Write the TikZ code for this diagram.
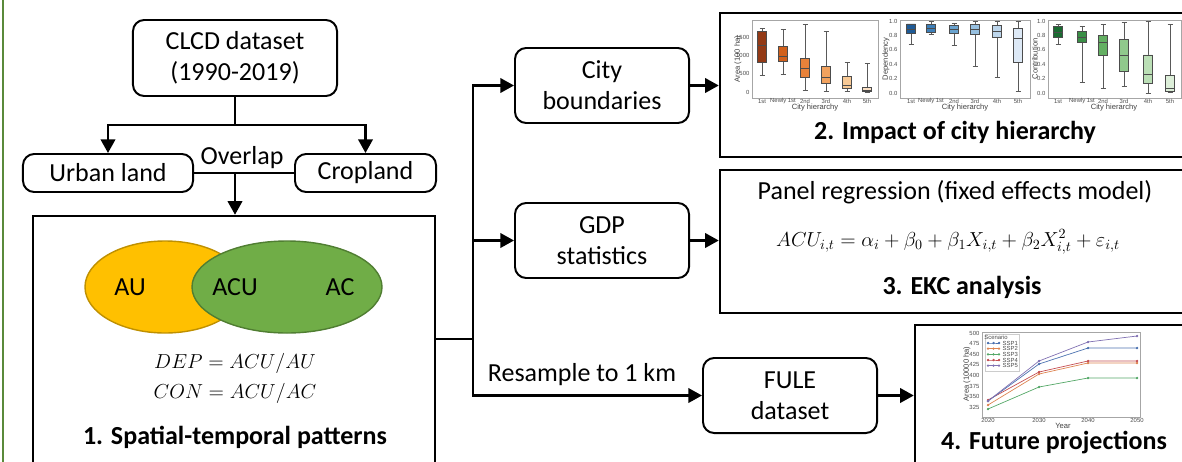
\documentclass[tikz,border=0pt]{standalone}
\usepackage{fontspec}
\setmainfont{Carlito}
\newfontfamily\chartfont{Liberation Sans}
\usetikzlibrary{arrows.meta}

\definecolor{auyellow}{HTML}{FFC000}
\definecolor{auedge}{HTML}{BF9000}
\definecolor{acgreen}{HTML}{70AD47}
\definecolor{acedge}{HTML}{507E32}
\definecolor{sideline}{HTML}{5A8A3A}
\definecolor{ar1}{HTML}{933A16}
\definecolor{ar2}{HTML}{D2611C}
\definecolor{ar3}{HTML}{E8823A}
\definecolor{ar4}{HTML}{F2A25E}
\definecolor{ar5}{HTML}{F8C995}
\definecolor{ar6}{HTML}{FBE0C4}
\definecolor{dp1}{HTML}{1E5A96}
\definecolor{dp2}{HTML}{3E7FB8}
\definecolor{dp3}{HTML}{6AA3CF}
\definecolor{dp4}{HTML}{97C0E0}
\definecolor{dp5}{HTML}{BDD6EC}
\definecolor{dp6}{HTML}{DDE9F6}
\definecolor{cn1}{HTML}{196B30}
\definecolor{cn2}{HTML}{3A8F46}
\definecolor{cn3}{HTML}{63AF62}
\definecolor{cn4}{HTML}{90C98C}
\definecolor{cn5}{HTML}{BBDFB6}
\definecolor{cn6}{HTML}{DDEFD9}
\definecolor{s1}{HTML}{4C72B0}
\definecolor{s2}{HTML}{DD8452}
\definecolor{s3}{HTML}{55A868}
\definecolor{s4}{HTML}{C44E52}
\definecolor{s5}{HTML}{8172B3}

\begin{document}
\begin{tikzpicture}[x=0.025cm, y=-0.025cm,
    font=\fontsize{18.5}{22}\selectfont,
    stepbox/.style={draw, line width=1.4pt, rounded corners=0.28cm, align=center, inner sep=0pt},
    panelbox/.style={draw, line width=1.7pt, inner sep=0pt},
    link/.style={line width=1.7pt},
    arr/.style={line width=1.7pt, -{Triangle[length=0.34cm, width=0.36cm]}},
    headline/.style={font=\fontsize{18.5}{22}\selectfont\bfseries},
    eq/.style={font=\fontsize{13.5}{16}\selectfont},
    plotframe/.style={draw=gray!70, line width=0.5pt},
    whisk/.style={draw=gray!70!black, line width=0.4pt},
    bx/.style={draw=gray!60!black, line width=0.4pt},
    ticklab/.style={font=\chartfont\fontsize{4.2}{5}\selectfont, text=gray!60!black, inner sep=1pt},
    axtitle/.style={font=\chartfont\fontsize{5.4}{6}\selectfont, text=gray!50!black, inner sep=0pt},
    ssp/.style={line width=0.5pt, mark=*, mark size=0.55pt}]
    \useasboundingbox (0,0) rectangle (1182,461);

    \draw[sideline, line width=1.4pt] (3,-5) -- (3,470);

    % data sources and first step
    \node[stepbox, minimum width=5.1cm, minimum height=1.9cm] (clcd) at (235,58) {CLCD dataset\\(1990-2019)};
    \node[stepbox, minimum width=4.25cm, minimum height=0.95cm] (urban) at (108,173) {Urban land};
    \node[stepbox, minimum width=3.525cm, minimum height=0.95cm] (crop) at (365.5,173) {Cropland};
    \node (overlap) at (242,158) {Overlap};
    \node[panelbox, minimum width=10.05cm, minimum height=6.375cm] (spatial) at (234,343.5) {};

    \coordinate (split) at (235,125);
    \coordinate (ov) at (235,173);
    \draw[link] (clcd) -- (split);
    \draw[arr] (split) -| (urban);
    \draw[arr] (split) -| (crop);
    \draw[link] (urban) -- (crop);
    \draw[arr] (ov) -- (ov |- spatial.north);

    \draw[fill=auyellow, draw=auedge, line width=1pt] (165,287) ellipse (80 and 46);
    \draw[fill=acgreen, draw=acedge, line width=1pt] (287,287) ellipse (95 and 46);
    \node (au) at (130,287) {AU};
    \node (acu) at (235,287) {ACU};
    \node (ac) at (340,287) {AC};
    \node[eq] (dep) at (235,363) {$DEP = ACU/AU$};
    \node[eq] (con) at (235,393) {$CON = ACU/AC$};
    \node[headline] (spatialtitle) at (235,437) {1. Spatial-temporal patterns};

    % middle column
    \node[stepbox, minimum width=4.35cm, minimum height=1.875cm] (city) at (602,85.5) {City\\boundaries};
    \node[stepbox, minimum width=4.35cm, minimum height=1.875cm] (gdp) at (602,240.5) {GDP\\statistics};
    \node[stepbox, minimum width=4.35cm, minimum height=1.875cm] (fule) at (790,395.5) {FULE\\dataset};

    % result panels
    \node[panelbox, minimum width=11.875cm, minimum height=3.6cm] (impact) at (957.5,85) {};
    \node[panelbox, minimum width=11.875cm, minimum height=3.575cm] (ekc) at (957.5,241.5) {};
    \node[panelbox, minimum width=7cm, minimum height=3.75cm] (future) at (1055,400) {};

    \coordinate (hub) at (473,339);
    \draw[link] (hub -| spatial.east) -- (hub);
    \draw[arr] (hub) |- (city);
    \draw[arr] (hub) |- (gdp);
    \draw[arr] (hub) |- (fule);
    \node (resample) at (582,375) {Resample to 1 km};
    \draw[arr] (city) -- (city -| impact.west);
    \draw[arr] (gdp) -- (gdp -| ekc.west);
    \draw[arr] (fule) -- (fule -| future.west);

    % area by city hierarchy
    \draw[plotframe] (752,20) rectangle (878,98);
    \begin{scope}[shift={(0,92)}, yscale=-0.036667]
        \draw[whisk] (762,450) -- (762,1750) (759.5,450) -- (764.5,450) (759.5,1750) -- (764.5,1750);
        \draw[bx, fill=ar1] (757.5,800) rectangle (766.5,1650) (757.5,1270) -- (766.5,1270);
        \draw[whisk] (783,470) -- (783,1700) (780.5,470) -- (785.5,470) (780.5,1700) -- (785.5,1700);
        \draw[bx, fill=ar2] (778.5,850) rectangle (787.5,1240) (778.5,970) -- (787.5,970);
        \draw[whisk] (805,50) -- (805,1850) (802.5,50) -- (807.5,50) (802.5,1850) -- (807.5,1850);
        \draw[bx, fill=ar3] (800.5,390) rectangle (809.5,920) (800.5,640) -- (809.5,640);
        \draw[whisk] (826,30) -- (826,1650) (823.5,30) -- (828.5,30) (823.5,1650) -- (828.5,1650);
        \draw[bx, fill=ar4] (821.5,230) rectangle (830.5,700) (821.5,400) -- (830.5,400);
        \draw[whisk] (847,10) -- (847,820) (844.5,10) -- (849.5,10) (844.5,820) -- (849.5,820);
        \draw[bx, fill=ar5] (842.5,100) rectangle (851.5,430) (842.5,180) -- (851.5,180);
        \draw[whisk] (867,0) -- (867,780) (864.5,0) -- (869.5,0) (864.5,780) -- (869.5,780);
        \draw[bx, fill=ar6] (862.5,20) rectangle (871.5,130) (862.5,60) -- (871.5,60);
        \node[ticklab, anchor=east] (a0) at (751,0) {0};
        \node[ticklab, anchor=east] (a1) at (751,500) {500};
        \node[ticklab, anchor=east] (a2) at (751,1000) {1000};
        \node[ticklab, anchor=east] (a3) at (751,1500) {1500};
    \end{scope}
    \node[axtitle, rotate=90] (areatitle) at (738,59) {Area (100 ha)};
    \node[ticklab] (ax1) at (762,101) {1st};
    \node[ticklab] (ax2) at (783,101) {Newly 1st};
    \node[ticklab] (ax3) at (805,101) {2nd};
    \node[ticklab] (ax4) at (826,101) {3rd};
    \node[ticklab] (ax5) at (847,101) {4th};
    \node[ticklab] (ax6) at (867,101) {5th};
    \node[axtitle] (areax) at (815,108) {City hierarchy};

    % dependency by city hierarchy
    \draw[plotframe] (900,20) rectangle (1030,98);
    \begin{scope}[shift={(0,93)}, yscale=-72]
        \draw[whisk] (911,.67) -- (911,.96) (908.5,.67) -- (913.5,.67) (908.5,.96) -- (913.5,.96);
        \draw[bx, fill=dp1] (906.5,.83) rectangle (915.5,.96) (906.5,.88) -- (915.5,.88);
        \draw[whisk] (931,.81) -- (931,.99) (928.5,.81) -- (933.5,.81) (928.5,.99) -- (933.5,.99);
        \draw[bx, fill=dp2] (926.5,.85) rectangle (935.5,.95) (926.5,.90) -- (935.5,.90);
        \draw[whisk] (954,.66) -- (954,.97) (951.5,.66) -- (956.5,.66) (951.5,.97) -- (956.5,.97);
        \draw[bx, fill=dp3] (949.5,.83) rectangle (958.5,.94) (949.5,.89) -- (958.5,.89);
        \draw[whisk] (975,.37) -- (975,.99) (972.5,.37) -- (977.5,.37) (972.5,.99) -- (977.5,.99);
        \draw[bx, fill=dp4] (970.5,.82) rectangle (979.5,.95) (970.5,.89) -- (979.5,.89);
        \draw[whisk] (997,.22) -- (997,1) (994.5,.22) -- (999.5,.22) (994.5,1) -- (999.5,1);
        \draw[bx, fill=dp5] (992.5,.78) rectangle (1001.5,.94) (992.5,.86) -- (1001.5,.86);
        \draw[whisk] (1018,.02) -- (1018,.99) (1015.5,.02) -- (1020.5,.02) (1015.5,.99) -- (1020.5,.99);
        \draw[bx, fill=dp6] (1013.5,.43) rectangle (1022.5,.90) (1013.5,.76) -- (1022.5,.76);
        \node[ticklab, anchor=east] (d0) at (899,0) {0.0};
        \node[ticklab, anchor=east] (d1) at (899,.2) {0.2};
        \node[ticklab, anchor=east] (d2) at (899,.4) {0.4};
        \node[ticklab, anchor=east] (d3) at (899,.6) {0.6};
        \node[ticklab, anchor=east] (d4) at (899,.8) {0.8};
        \node[ticklab, anchor=east] (d5) at (899,1) {1.0};
    \end{scope}
    \node[axtitle, rotate=90] (deptitle) at (886,59) {Dependency};
    \node[ticklab] (dx1) at (911,101) {1st};
    \node[ticklab] (dx2) at (931,101) {Newly 1st};
    \node[ticklab] (dx3) at (954,101) {2nd};
    \node[ticklab] (dx4) at (975,101) {3rd};
    \node[ticklab] (dx5) at (997,101) {4th};
    \node[ticklab] (dx6) at (1018,101) {5th};
    \node[axtitle] (depx) at (965,108) {City hierarchy};

    % contribution by city hierarchy
    \draw[plotframe] (1048,20) rectangle (1181,98);
    \begin{scope}[shift={(0,93)}, yscale=-72]
        \draw[whisk] (1058,.68) -- (1058,.95) (1055.5,.68) -- (1060.5,.68) (1055.5,.95) -- (1060.5,.95);
        \draw[bx, fill=cn1] (1053.5,.77) rectangle (1062.5,.92) (1053.5,.84) -- (1062.5,.84);
        \draw[whisk] (1082,.15) -- (1082,.92) (1079.5,.15) -- (1084.5,.15) (1079.5,.92) -- (1084.5,.92);
        \draw[bx, fill=cn2] (1077.5,.70) rectangle (1086.5,.86) (1077.5,.78) -- (1086.5,.78);
        \draw[whisk] (1103,.07) -- (1103,.95) (1100.5,.07) -- (1105.5,.07) (1100.5,.95) -- (1105.5,.95);
        \draw[bx, fill=cn3] (1098.5,.53) rectangle (1107.5,.80) (1098.5,.70) -- (1107.5,.70);
        \draw[whisk] (1124,.09) -- (1124,.98) (1121.5,.09) -- (1126.5,.09) (1121.5,.98) -- (1126.5,.98);
        \draw[bx, fill=cn4] (1119.5,.30) rectangle (1128.5,.75) (1119.5,.53) -- (1128.5,.53);
        \draw[whisk] (1148,0) -- (1148,.99) (1145.5,0) -- (1150.5,0) (1145.5,.99) -- (1150.5,.99);
        \draw[bx, fill=cn5] (1143.5,.13) rectangle (1152.5,.53) (1143.5,.26) -- (1152.5,.26);
        \draw[whisk] (1170,.01) -- (1170,.95) (1167.5,.01) -- (1172.5,.01) (1167.5,.95) -- (1172.5,.95);
        \draw[bx, fill=cn6] (1165.5,.02) rectangle (1174.5,.25) (1165.5,.07) -- (1174.5,.07);
        \node[ticklab, anchor=east] (c0) at (1047,0) {0.0};
        \node[ticklab, anchor=east] (c1) at (1047,.2) {0.2};
        \node[ticklab, anchor=east] (c2) at (1047,.4) {0.4};
        \node[ticklab, anchor=east] (c3) at (1047,.6) {0.6};
        \node[ticklab, anchor=east] (c4) at (1047,.8) {0.8};
        \node[ticklab, anchor=east] (c5) at (1047,1) {1.0};
    \end{scope}
    \node[axtitle, rotate=90] (contitle) at (1035,59) {Contribution};
    \node[ticklab] (cx1) at (1058,101) {1st};
    \node[ticklab] (cx2) at (1082,101) {Newly 1st};
    \node[ticklab] (cx3) at (1103,101) {2nd};
    \node[ticklab] (cx4) at (1124,101) {3rd};
    \node[ticklab] (cx5) at (1148,101) {4th};
    \node[ticklab] (cx6) at (1170,101) {5th};
    \node[axtitle] (conx) at (1114,108) {City hierarchy};

    \node[headline] (impacttitle) at (955,132) {2. Impact of city hierarchy};

    % regression panel
    \node (panelreg) at (955,192) {Panel regression (fixed effects model)};
    \node[eq, font=\fontsize{14.2}{17}\selectfont] (ekceq) at (948,242) {$ACU_{i,t} = \alpha_i + \beta_0 + \beta_1 X_{i,t} + \beta_2 X_{i,t}^2 + \varepsilon_{i,t}$};
    \node[headline] (ekctitle) at (962,287) {3. EKC analysis};

    % projected area under scenarios
    \draw[plotframe] (982,332) rectangle (1140,417);
    \draw[ssp, s3] plot coordinates {(988,409) (1039,387) (1088,378) (1137,378)};
    \draw[ssp, s2] plot coordinates {(988,405) (1039,374) (1088,363) (1137,363)};
    \draw[ssp, s4] plot coordinates {(988,400) (1039,372) (1088,361) (1137,361)};
    \draw[ssp, s1] plot coordinates {(988,401) (1039,364) (1088,348) (1137,348)};
    \draw[ssp, s5] plot coordinates {(988,401) (1039,361) (1088,342) (1137,336)};
    \node[ticklab, anchor=east] (f500) at (981,333) {500};
    \node[ticklab, anchor=east] (f475) at (981,343.6) {475};
    \node[ticklab, anchor=east] (f450) at (981,354.2) {450};
    \node[ticklab, anchor=east] (f425) at (981,364.8) {425};
    \node[ticklab, anchor=east] (f400) at (981,375.4) {400};
    \node[ticklab, anchor=east] (f375) at (981,386) {375};
    \node[ticklab, anchor=east] (f350) at (981,396.6) {350};
    \node[ticklab, anchor=east] (f325) at (981,407.2) {325};
    \node[ticklab] (y2020) at (988,420) {2020};
    \node[ticklab] (y2030) at (1039,420) {2030};
    \node[ticklab] (y2040) at (1088,420) {2040};
    \node[ticklab] (y2050) at (1137,420) {2050};
    \node[axtitle] (yearx) at (1063,425.5) {Year};
    \node[axtitle, rotate=90] (futurey) at (967,374) {Area (10000 ha)};
    \draw[fill=white, draw=gray!40, line width=0.3pt] (985,334) rectangle (1019,371);
    \node[ticklab] (scen) at (996,337.5) {Scenario};
    \draw[ssp, s1] plot coordinates {(988,343) (993.5,343) (999,343)};
    \draw[ssp, s2] plot coordinates {(988,348.7) (993.5,348.7) (999,348.7)};
    \draw[ssp, s3] plot coordinates {(988,354.4) (993.5,354.4) (999,354.4)};
    \draw[ssp, s4] plot coordinates {(988,360) (993.5,360) (999,360)};
    \draw[ssp, s5] plot coordinates {(988,365.7) (993.5,365.7) (999,365.7)};
    \node[ticklab, anchor=west] (l1) at (1001,343) {SSP1};
    \node[ticklab, anchor=west] (l2) at (1001,348.7) {SSP2};
    \node[ticklab, anchor=west] (l3) at (1001,354.4) {SSP3};
    \node[ticklab, anchor=west] (l4) at (1001,360) {SSP4};
    \node[ticklab, anchor=west] (l5) at (1001,365.7) {SSP5};

    \node[headline] (futuretitle) at (1054,443) {4. Future projections};
\end{tikzpicture}
\end{document}
